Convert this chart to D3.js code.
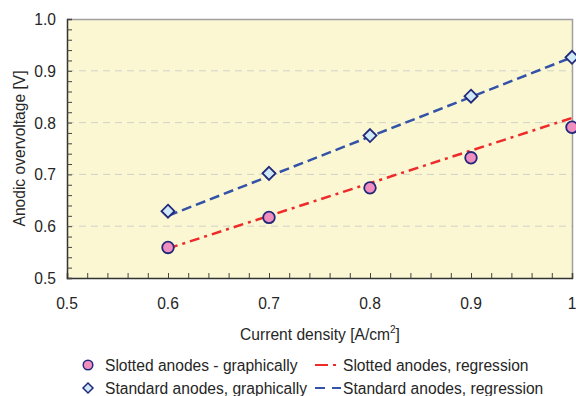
<!DOCTYPE html>
<html><head><meta charset="utf-8">
<script src="https://cdn.jsdelivr.net/npm/d3@7"></script>
<style>body{margin:0;background:#fff}svg{display:block;font-family:"Liberation Sans",Arial,sans-serif}</style>
</head><body><svg id="c" width="576" height="396"></svg>
<script>
const xValues = [0.6, 0.7, 0.8, 0.9, 1.0];
const slottedValues = [0.559, 0.617, 0.674, 0.732, 0.791];
const standardValues = [0.629, 0.702, 0.775, 0.851, 0.926];
const slottedRegression = [[0.6, 0.557], [1.0, 0.809]];
const standardRegression = [[0.6, 0.620], [1.0, 0.926]];
const xTicks = [0.5, 0.6, 0.7, 0.8, 0.9, 1.0];
const xTickLabels = ["0.5", "0.6", "0.7", "0.8", "0.9", "1"];
const yTicks = [0.5, 0.6, 0.7, 0.8, 0.9, 1.0];
const yTickLabels = ["0.5", "0.6", "0.7", "0.8", "0.9", "1.0"];
const legendLabels = ["Slotted anodes - graphically", "Slotted anodes, regression", "Standard anodes, graphically", "Standard anodes, regression"];

const svg = d3.select("#c");
const L = 67, R = 572, T = 19, B = 278;
const FS = 15.6;
const x = d3.scaleLinear().domain([0.5, 1.0]).range([L, R]);
const y = d3.scaleLinear().domain([0.5, 1.0]).range([B, T]);

const navy = "#22287a", red = "#ee2a2a", blue = "#3352a8";
const pink = "#f08ec0", lblue = "#cfeaf6";
const txt = "#262626";

svg.append("rect").attr("x", L).attr("y", T).attr("width", R - L).attr("height", B - T).attr("fill", "#faf7d2");

// gridlines
svg.append("g").selectAll("line").data([0.6, 0.7, 0.8, 0.9]).join("line")
  .attr("x1", L).attr("x2", R).attr("y1", d => y(d)).attr("y2", d => y(d))
  .attr("stroke", "#d2d2c8").attr("stroke-width", 1).attr("stroke-dasharray", "7,5");

// top/right border
svg.append("path").attr("d", `M${L},${T + 0.5}H${R + 0.5}V${B}`).attr("fill", "none").attr("stroke", "#a0a0a0").attr("stroke-width", 1.5);

// minor ticks
const minors = d3.range(0, 26).map(i => 0.5 + i * 0.02);
const gx = svg.append("g").attr("transform", `translate(0,${B})`)
  .call(d3.axisBottom(x).tickValues(minors).tickSize(-5).tickFormat(""));
const gy = svg.append("g").attr("transform", `translate(${L},0)`)
  .call(d3.axisLeft(y).tickValues(minors).tickSize(-5).tickFormat(""));
[gx, gy].forEach(g => { g.selectAll("path").attr("stroke", "#333").attr("stroke-width", 1.5); g.selectAll("line").attr("stroke", "#444"); });

// tick labels
svg.append("g").selectAll("text").data(xTicks).join("text")
  .attr("x", d => x(d)).attr("y", 309).attr("text-anchor", "middle")
  .attr("font-size", FS).attr("fill", txt).text((d, i) => xTickLabels[i]);
svg.append("g").selectAll("text").data(yTicks).join("text")
  .attr("x", 56).attr("y", d => y(d) + 6).attr("text-anchor", "end")
  .attr("font-size", FS).attr("fill", txt).text((d, i) => yTickLabels[i]);

// axis titles
const xt = svg.append("text").attr("x", 320).attr("y", 340).attr("text-anchor", "middle").attr("font-size", FS).attr("fill", txt);
xt.append("tspan").text("Current density [A/cm");
xt.append("tspan").attr("font-size", 10).attr("dy", -7).text("2");
xt.append("tspan").attr("dy", 7).text("]");
svg.append("text").attr("transform", `translate(25,${(T + B) / 2}) rotate(-90)`).attr("text-anchor", "middle")
  .attr("font-size", FS).attr("fill", txt).text("Anodic overvoltage [V]");

// regression lines
const line = d3.line().x(d => x(d[0])).y(d => y(d[1]));
svg.append("path").datum(slottedRegression).attr("d", line).attr("fill", "none")
  .attr("stroke", red).attr("stroke-width", 2.5).attr("stroke-dasharray", "10,5,3,5");
svg.append("path").datum(standardRegression).attr("d", line).attr("fill", "none")
  .attr("stroke", blue).attr("stroke-width", 2.5).attr("stroke-dasharray", "10,5");

// markers
const diamond = s => `M0,${-s}L${s},0L0,${s}L${-s},0Z`;
svg.append("g").selectAll("path").data(xValues).join("path")
  .attr("transform", (d, i) => `translate(${x(d)},${y(standardValues[i])})`)
  .attr("d", diamond(6.5)).attr("fill", lblue).attr("stroke", navy).attr("stroke-width", 1.8);
svg.append("g").selectAll("circle").data(xValues).join("circle")
  .attr("cx", d => x(d)).attr("cy", (d, i) => y(slottedValues[i])).attr("r", 5.8)
  .attr("fill", pink).attr("stroke", navy).attr("stroke-width", 1.8);

// legend
const lg = svg.append("g").attr("font-size", FS).attr("fill", txt);
lg.append("circle").attr("cx", 88).attr("cy", 365).attr("r", 4.8).attr("fill", pink).attr("stroke", navy).attr("stroke-width", 1.5);
lg.append("text").attr("x", 105).attr("y", 370.5).text(legendLabels[0]);
lg.append("line").attr("x1", 315).attr("x2", 328).attr("y1", 365).attr("y2", 365).attr("stroke", red).attr("stroke-width", 2);
lg.append("line").attr("x1", 333).attr("x2", 336).attr("y1", 365).attr("y2", 365).attr("stroke", red).attr("stroke-width", 2);
lg.append("text").attr("x", 343).attr("y", 370.5).text(legendLabels[1]);
lg.append("path").attr("transform", "translate(88,388)").attr("d", diamond(5)).attr("fill", lblue).attr("stroke", navy).attr("stroke-width", 1.5);
lg.append("text").attr("x", 105).attr("y", 393.5).text(legendLabels[2]);
lg.append("line").attr("x1", 315).attr("x2", 325).attr("y1", 388).attr("y2", 388).attr("stroke", blue).attr("stroke-width", 2);
lg.append("line").attr("x1", 332).attr("x2", 341).attr("y1", 388).attr("y2", 388).attr("stroke", blue).attr("stroke-width", 2);
lg.append("text").attr("x", 343).attr("y", 393.5).text(legendLabels[3]);
</script></body></html>
